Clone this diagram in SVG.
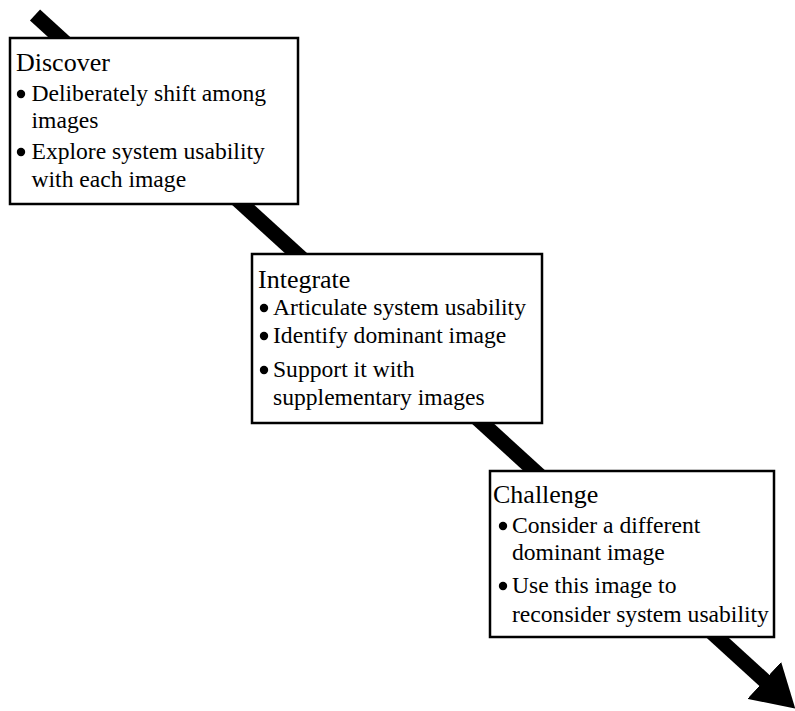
<svg xmlns="http://www.w3.org/2000/svg" width="795" height="711" viewBox="0 0 795 711">
  <defs>
    <marker id="head" markerUnits="userSpaceOnUse" viewBox="0 0 42 50" refX="1" refY="25" markerWidth="42" markerHeight="50" orient="auto">
      <path d="M0,0 L42,25 L0,50 z" fill="#000"/>
    </marker>
  </defs>
  <style>
    .box { fill: #fff; stroke: #000; stroke-width: 2.5; }
    .dot { fill: #000; }
  </style>
  <rect width="795" height="711" fill="#fff"/>

  <!-- connectors: the long diagonal progression arrow -->
  <g id="connectors">
    <line x1="35" y1="15" x2="765" y2="681" stroke="#000" stroke-width="15" marker-end="url(#head)"/>
  </g>

  <!-- stage titles at 26px, bullet items at 23.6px -->
  <g id="discover">
    <rect class="box" x="10" y="38" width="288" height="166"/>
    <text x="16" y="71" font-family="Liberation Serif" font-size="26">Discover</text>
    <circle class="dot" cx="21" cy="94" r="4.2"/>
    <text x="31.5" y="101" font-family="Liberation Serif" font-size="23.6">Deliberately shift among</text>
    <text x="31.5" y="128" font-family="Liberation Serif" font-size="23.6">images</text>
    <circle class="dot" cx="21" cy="152" r="4.2"/>
    <text x="31.5" y="159" font-family="Liberation Serif" font-size="23.6">Explore system usability</text>
    <text x="31.5" y="187" font-family="Liberation Serif" font-size="23.6">with each image</text>
  </g>

  <g id="integrate">
    <rect class="box" x="252" y="254" width="290" height="169"/>
    <text x="258" y="288" font-family="Liberation Serif" font-size="26">Integrate</text>
    <circle class="dot" cx="264" cy="308" r="4.2"/>
    <text x="273" y="315" font-family="Liberation Serif" font-size="23.6">Articulate system usability</text>
    <circle class="dot" cx="264" cy="336" r="4.2"/>
    <text x="273" y="343" font-family="Liberation Serif" font-size="23.6">Identify dominant image</text>
    <circle class="dot" cx="264" cy="370" r="4.2"/>
    <text x="273" y="377" font-family="Liberation Serif" font-size="23.6">Support it with</text>
    <text x="273" y="405" font-family="Liberation Serif" font-size="23.6">supplementary images</text>
  </g>

  <g id="challenge">
    <rect class="box" x="490" y="471" width="284" height="166"/>
    <text x="493" y="503" font-family="Liberation Serif" font-size="26">Challenge</text>
    <circle class="dot" cx="503" cy="526" r="4.2"/>
    <text x="512" y="533" font-family="Liberation Serif" font-size="23.6">Consider a different</text>
    <text x="512" y="560" font-family="Liberation Serif" font-size="23.6">dominant image</text>
    <circle class="dot" cx="503" cy="586" r="4.2"/>
    <text x="512" y="593" font-family="Liberation Serif" font-size="23.6">Use this image to</text>
    <text x="512" y="622" font-family="Liberation Serif" font-size="23.6">reconsider system usability</text>
  </g>
</svg>
